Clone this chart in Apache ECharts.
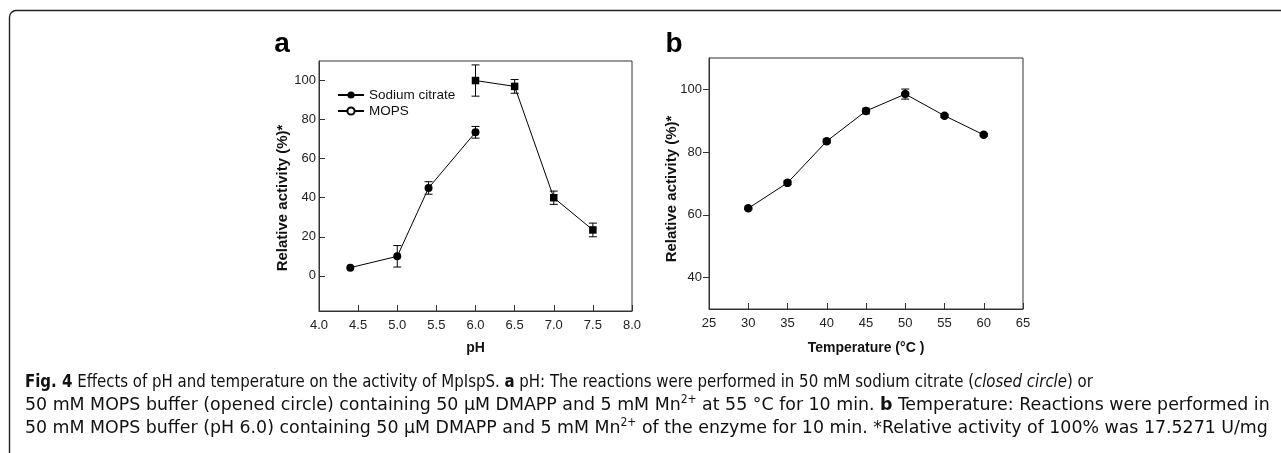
<!DOCTYPE html>
<html>
<head>
<meta charset="utf-8">
<script src="https://cdn.jsdelivr.net/npm/echarts@6/dist/echarts.min.js"></script>
<style>
html,body{margin:0;padding:0;background:#fff;}
#c{width:1281px;height:453px;}
</style>
</head>
<body>
<div id="c"></div>
<script>
// ---- data ----
const phCitrateX = [4.4, 5.0, 5.4, 6.0];
const phCitrateY = [4.2, 10, 45, 73.5];
const phCitrateErr = [0, 5.5, 3.2, 3];
const phMopsX = [6.0, 6.5, 7.0, 7.5];
const phMopsY = [100, 97, 40, 23.5];
const phMopsErr = [8, 3.5, 3.4, 3.5];
const tempX = [30, 35, 40, 45, 50, 55, 60];
const tempY = [62.1, 70.2, 83.5, 93.1, 98.5, 91.6, 85.5];
const tempErr = [0.4, 0.6, 0.6, 0.9, 1.6, 0.5, 0.4];
const phTickLabels = [0, 20, 40, 60, 80, 100];
const tempTickLabels = [40, 60, 80, 100];
const seriesNames = ['Sodium citrate', 'MOPS'];

const chart = echarts.init(document.getElementById('c'), null, {renderer: 'canvas'});
const AX = '#222';
const F = 'Liberation Sans, Arial, sans-serif';
const CF = 'DejaVu Sans Condensed, sans-serif';

function errSeries(xs, ys, es, idx, cap) {
  return {
    type: 'custom', xAxisIndex: idx, yAxisIndex: idx, silent: true, z: 1,
    data: xs.map((x, i) => [x, ys[i], es[i]]),
    renderItem: function (params, api) {
      const x = api.value(0), y = api.value(1), e = api.value(2);
      if (!e) return {type: 'group', children: []};
      const t = api.coord([x, y + e]), b = api.coord([x, y - e]);
      const st = {stroke: '#000', lineWidth: 1};
      return {type: 'group', children: [
        {type: 'line', shape: {x1: t[0], y1: t[1], x2: b[0], y2: b[1]}, style: st},
        {type: 'line', shape: {x1: t[0] - cap, y1: t[1], x2: t[0] + cap, y2: t[1]}, style: st},
        {type: 'line', shape: {x1: b[0] - cap, y1: b[1], x2: b[0] + cap, y2: b[1]}, style: st}
      ]};
    }
  };
}

const CS = 18.5;
const rich = {
  b: {fontWeight: 'bold', fontFamily: CF, fontSize: CS, fill: '#111'},
  i: {fontStyle: 'italic', fontFamily: CF, fontSize: CS, fill: '#111'},
  s: {fontFamily: CF, fontSize: 11.5, padding: [0, 0, 10, 0], fill: '#111'}
};
const capFont = {fontFamily: CF, fontSize: CS, fill: '#111', rich: rich, verticalAlign: 'middle', align: 'left'};
const capLines = [
  '{b|Fig. 4} Effects of pH and temperature on the activity of MpIspS. {b|a} pH: The reactions were performed in 50 mM sodium citrate ({i|closed circle}) or',
  '50 mM MOPS buffer (opened circle) containing 50 μM DMAPP and 5 mM Mn{s|2+} at 55 °C for 10 min. {b|b} Temperature: Reactions were performed in',
  '50 mM MOPS buffer (pH 6.0) containing 50 μM DMAPP and 5 mM Mn{s|2+} of the enzyme for 10 min. *Relative activity of 100% was 17.5271 U/mg'
];
const capY = [382, 405, 428];
const capScale = [0.90, 1.045, 1.044];

const frameStyle = {stroke: '#222', lineWidth: 1.4, fill: null};

const option = {
  backgroundColor: '#fff',
  animation: false,
  textStyle: {fontFamily: F},
  grid: [
    {left: 319, top: 61, width: 313, height: 250, show: true, borderColor: '#333', borderWidth: 1, backgroundColor: 'transparent'},
    {left: 709, top: 58, width: 314, height: 251, show: true, borderColor: '#333', borderWidth: 1, backgroundColor: 'transparent'}
  ],
  legend: {
    left: 332, top: 83, orient: 'vertical', itemWidth: 26, itemHeight: 9, itemGap: 2,
    textStyle: {fontSize: 13.5, color: '#111', fontFamily: F},
    data: seriesNames
  },
  xAxis: [
    {gridIndex: 0, type: 'value', min: 4, max: 8, interval: 0.5,
     axisLine: {onZero: false, lineStyle: {color: '#333'}}, splitLine: {show: false},
     axisTick: {inside: true, length: 6, lineStyle: {color: '#333'}},
     axisLabel: {margin: 8, fontSize: 13, color: AX, formatter: v => v.toFixed(1), showMinLabel: true, showMaxLabel: true},
     name: 'pH', nameLocation: 'middle', nameGap: 30,
     nameTextStyle: {fontWeight: 'bold', fontSize: 14, color: '#111'}},
    {gridIndex: 1, type: 'value', min: 25, max: 65, interval: 5,
     axisLine: {onZero: false, lineStyle: {color: '#333'}}, splitLine: {show: false},
     axisTick: {inside: true, length: 6, lineStyle: {color: '#333'}},
     axisLabel: {margin: 8, fontSize: 13, color: AX, showMinLabel: true, showMaxLabel: true},
     name: 'Temperature (°C )', nameLocation: 'middle', nameGap: 32,
     nameTextStyle: {fontWeight: 'bold', fontSize: 14, color: '#111'}}
  ],
  yAxis: [
    {gridIndex: 0, type: 'value', min: -18, max: 110,
     axisLine: {show: true, onZero: false, lineStyle: {color: '#333'}}, splitLine: {show: false},
     axisTick: {show: true, inside: true, length: 6, customValues: phTickLabels, lineStyle: {color: '#333'}},
     axisLabel: {margin: 3, fontSize: 13, color: AX, customValues: phTickLabels}},
    {gridIndex: 1, type: 'value', min: 30, max: 110,
     axisLine: {show: true, onZero: false, lineStyle: {color: '#333'}}, splitLine: {show: false},
     axisTick: {show: true, inside: false, length: 6, customValues: tempTickLabels, lineStyle: {color: '#333'}},
     axisLabel: {margin: 7, fontSize: 13, color: AX, customValues: tempTickLabels}}
  ],
  series: [
    errSeries(phCitrateX, phCitrateY, phCitrateErr, 0, 4),
    errSeries(phMopsX, phMopsY, phMopsErr, 0, 4),
    errSeries(tempX, tempY, tempErr, 1, 4),
    {name: seriesNames[0], type: 'line', xAxisIndex: 0, yAxisIndex: 0, z: 3,
     data: phCitrateX.map((x, i) => [x, phCitrateY[i]]),
     symbol: 'circle', symbolSize: 8, showAllSymbol: true,
     lineStyle: {color: '#000', width: 1}, itemStyle: {color: '#000', borderColor: '#000', borderWidth: 0}},
    {name: seriesNames[1], type: 'line', xAxisIndex: 0, yAxisIndex: 0, z: 3,
     data: phMopsX.map((x, i) => ({value: [x, phMopsY[i]], symbol: 'rect', symbolSize: 7.5, itemStyle: {color: '#000', borderColor: '#000', borderWidth: 0}})),
     symbol: 'circle', symbolSize: 8, showAllSymbol: true,
     lineStyle: {color: '#000', width: 1}, itemStyle: {color: '#fff', borderColor: '#000', borderWidth: 1}},
    {name: 'Temperature', type: 'line', xAxisIndex: 1, yAxisIndex: 1, z: 3,
     data: tempX.map((x, i) => [x, tempY[i]]),
     symbol: 'circle', symbolSize: 8.5, showAllSymbol: true,
     lineStyle: {color: '#000', width: 1}, itemStyle: {color: '#000', borderWidth: 0}}
  ],
  graphic: [
    {type: 'line', shape: {x1: 9.5, y1: 17, x2: 9.5, y2: 453}, style: frameStyle},
    {type: 'line', shape: {x1: 16, y1: 10.5, x2: 1281, y2: 10.5}, style: frameStyle},
    {type: 'arc', shape: {cx: 16, cy: 17, r: 6.5, startAngle: Math.PI, endAngle: Math.PI * 1.5, clockwise: true}, style: frameStyle},
    {type: 'text', x: 282, y: 44, style: {text: 'a', fontFamily: F, fontWeight: 'bold', fontSize: 28, fill: '#000', align: 'center', verticalAlign: 'middle'}},
    {type: 'text', x: 674, y: 44, style: {text: 'b', fontFamily: F, fontWeight: 'bold', fontSize: 28, fill: '#000', align: 'center', verticalAlign: 'middle'}},
    {type: 'text', x: 283, y: 198, rotation: Math.PI / 2, style: {text: 'Relative activity (%)*', fontFamily: F, fontWeight: 'bold', fontSize: 15, fill: '#111', align: 'center', verticalAlign: 'middle'}},
    {type: 'text', x: 672, y: 189, rotation: Math.PI / 2, style: {text: 'Relative activity (%)*', fontFamily: F, fontWeight: 'bold', fontSize: 15, fill: '#111', align: 'center', verticalAlign: 'middle'}}
  ].concat(capLines.map((t, i) => ({
    type: 'text', x: 25, y: capY[i], scaleX: capScale[i],
    style: Object.assign({text: t}, capFont)
  })))
};
chart.setOption(option);
</script>
</body>
</html>
